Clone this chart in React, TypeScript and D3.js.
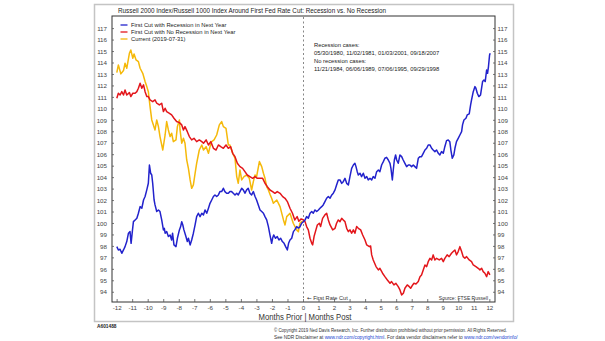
import React from "react";
import * as d3 from "d3";

const chartTitle = "Russell 2000 Index/Russell 1000 Index Around First Fed Rate Cut: Recession vs. No Recession";
const legendLabels = ["First Cut with Recession in Next Year", "First Cut with No Recession in Next Year", "Current (2019-07-31)"];
const seriesColors = ["#2222cc", "#e3161b", "#f5b90a"];
const yTicks = [94, 95, 96, 97, 98, 99, 100, 101, 102, 103, 104, 105, 106, 107, 108, 109, 110, 111, 112, 113, 114, 115, 116, 117];
const xTicks = [-12, -11, -10, -9, -8, -7, -6, -5, -4, -3, -2, -1, 0, 1, 2, 3, 4, 5, 6, 7, 8, 9, 10, 11, 12];
const noteLines = ["Recession cases:", "05/30/1980, 11/02/1981, 01/03/2001, 09/18/2007", "No recession cases:", "11/21/1984, 06/06/1989, 07/06/1995, 09/29/1998"];

const recession: [number, number][] = [
  [-12.02,97.98],[-11.92,97.69],[-11.81,97.75],[-11.7,97.4],[-11.59,97.69],[-11.49,97.98],[-11.38,98.42],[-11.27,99.15],[-11.17,99.29],[-11.1,98.27],[-11.01,99.44],[-10.95,100.16],[-10.84,100.31],[-10.73,100.45],[-10.63,100.89],[-10.52,101.47],[-10.41,101.33],[-10.3,102.05],[-10.2,102.35],[-10.09,102.93],[-9.99,103.51],[-9.92,105.1],[-9.84,104.38],[-9.77,104.23],[-9.71,103.51],[-9.62,102.05],[-9.56,101.62],[-9.45,101.04],[-9.34,101.18],[-9.24,101.04],[-9.13,100.31],[-9.02,99.44],[-8.96,99.58],[-8.91,99.15],[-8.81,99.29],[-8.7,98.86],[-8.59,99.0],[-8.49,98.56],[-8.43,99.15],[-8.34,98.13],[-8.21,97.98],[-8.12,98.71],[-7.99,99.44],[-7.91,99.73],[-7.84,100.16],[-7.77,99.87],[-7.7,99.44],[-7.57,98.86],[-7.48,98.42],[-7.41,98.71],[-7.3,98.13],[-7.2,98.56],[-7.09,99.15],[-6.98,99.87],[-6.88,100.6],[-6.77,100.89],[-6.66,100.6],[-6.55,100.89],[-6.44,100.75],[-6.34,101.18],[-6.23,100.89],[-6.12,101.33],[-6.02,101.76],[-5.91,102.05],[-5.8,102.35],[-5.7,102.49],[-5.59,102.35],[-5.48,102.49],[-5.38,102.78],[-5.27,102.78],[-5.16,103.07],[-5.06,102.78],[-4.95,102.64],[-4.84,102.64],[-4.74,102.78],[-4.63,102.78],[-4.52,102.64],[-4.41,102.49],[-4.3,102.64],[-4.2,102.49],[-4.09,102.78],[-3.98,103.07],[-3.88,102.93],[-3.77,102.64],[-3.66,102.93],[-3.56,103.07],[-3.45,102.64],[-3.34,102.49],[-3.23,102.78],[-3.12,102.35],[-3.02,102.05],[-2.91,101.62],[-2.8,101.18],[-2.69,101.04],[-2.58,100.89],[-2.48,100.6],[-2.37,100.31],[-2.26,99.73],[-2.16,99.0],[-2.05,98.27],[-1.99,98.71],[-1.92,99.0],[-1.8,98.71],[-1.69,98.86],[-1.58,98.56],[-1.47,98.71],[-1.36,98.42],[-1.25,98.27],[-1.15,97.98],[-1.04,97.69],[-0.96,98.27],[-0.87,98.56],[-0.76,98.71],[-0.65,99.29],[-0.56,99.44],[-0.44,99.73],[-0.33,99.6],[-0.23,99.7],[-0.12,100.02],[0,100.16],
  [0.1,100.31],[0.2,100.6],[0.31,100.45],[0.42,100.89],[0.53,101.04],[0.63,100.89],[0.74,101.18],[0.85,101.04],[0.96,101.18],[1.06,101.33],[1.17,101.47],[1.27,101.62],[1.38,101.91],[1.49,102.2],[1.6,102.35],[1.71,102.2],[1.82,102.49],[1.92,102.64],[2.03,102.93],[2.13,103.36],[2.24,103.8],[2.35,103.8],[2.46,103.5],[2.56,103.65],[2.67,103.94],[2.78,103.5],[2.89,103.36],[2.99,104.09],[3.1,104.81],[3.21,105.1],[3.31,105.25],[3.38,104.96],[3.46,104.52],[3.53,104.23],[3.64,104.38],[3.74,104.09],[3.85,104.38],[3.96,103.94],[4.07,104.09],[4.17,103.8],[4.28,103.94],[4.39,103.8],[4.49,104.09],[4.6,103.94],[4.71,104.52],[4.82,104.67],[4.92,104.52],[5.03,105.1],[5.14,105.4],[5.24,105.69],[5.35,105.77],[5.46,105.54],[5.57,105.25],[5.63,104.81],[5.72,103.8],[5.78,104.67],[5.85,105.54],[5.93,105.98],[6.0,105.54],[6.1,105.25],[6.21,105.98],[6.32,105.83],[6.42,105.54],[6.53,105.25],[6.64,104.96],[6.75,105.1],[6.85,105.1],[6.96,104.96],[7.07,105.1],[7.17,104.96],[7.28,104.81],[7.39,105.69],[7.5,105.83],[7.6,105.83],[7.71,106.12],[7.82,106.41],[7.93,106.56],[8.03,106.85],[8.14,106.85],[8.25,106.56],[8.35,106.41],[8.46,106.27],[8.57,106.41],[8.68,106.12],[8.78,105.98],[8.89,106.27],[9.0,106.12],[9.1,106.7],[9.21,107.23],[9.32,107.29],[9.42,107.14],[9.49,106.41],[9.58,105.69],[9.68,105.98],[9.75,106.56],[9.85,107.14],[9.96,107.43],[10.07,107.72],[10.18,108.01],[10.24,108.6],[10.33,109.03],[10.46,109.18],[10.54,109.47],[10.67,109.56],[10.76,110.34],[10.82,110.78],[10.93,111.5],[11.04,111.94],[11.1,111.8],[11.19,111.36],[11.29,111.07],[11.4,111.21],[11.53,112.38],[11.62,112.52],[11.7,112.38],[11.79,113.39],[11.85,113.1],[11.91,113.69],[11.98,114.7],[12.02,114.85]
];

const noRecession: [number, number][] = [
  [-12.02,110.92],[-11.92,111.36],[-11.81,111.21],[-11.7,111.5],[-11.59,111.21],[-11.49,111.65],[-11.38,111.21],[-11.21,111.42],[-11.12,111.07],[-10.99,111.36],[-10.84,111.36],[-10.73,111.5],[-10.63,111.8],[-10.52,112.23],[-10.41,111.8],[-10.3,112.09],[-10.2,111.5],[-10.09,111.07],[-9.99,111.07],[-9.88,110.78],[-9.71,110.63],[-9.56,110.78],[-9.45,110.49],[-9.28,110.34],[-9.13,110.49],[-9.02,109.76],[-8.91,110.05],[-8.81,109.76],[-8.63,109.61],[-8.49,109.47],[-8.34,109.18],[-8.17,108.89],[-7.99,108.8],[-7.84,108.6],[-7.73,108.16],[-7.63,108.45],[-7.48,108.01],[-7.35,107.58],[-7.2,107.29],[-7.05,107.43],[-6.88,107.14],[-6.71,107.29],[-6.55,107.14],[-6.44,107.0],[-6.27,107.29],[-6.12,106.85],[-5.97,107.14],[-5.8,106.56],[-5.63,106.41],[-5.48,106.85],[-5.33,106.7],[-5.16,106.56],[-4.99,106.85],[-4.84,106.56],[-4.69,106.7],[-4.56,106.12],[-4.41,105.83],[-4.26,105.25],[-4.09,104.96],[-3.92,104.81],[-3.77,104.52],[-3.62,104.23],[-3.45,104.09],[-3.27,103.94],[-3.12,104.09],[-2.97,103.94],[-2.8,103.94],[-2.63,103.94],[-2.48,103.51],[-2.33,103.21],[-2.16,102.92],[-1.99,102.78],[-1.84,102.63],[-1.69,102.78],[-1.51,102.63],[-1.34,102.34],[-1.19,102.2],[-1.04,101.91],[-0.87,101.33],[-0.71,100.89],[-0.56,100.31],[-0.41,100.6],[-0.3,100.2],[-0.15,100.4],[0,100.3],
  [0.1,100.16],[0.2,99.73],[0.31,99.44],[0.42,98.71],[0.53,98.27],[0.59,98.13],[0.68,98.86],[0.8,99.44],[0.89,99.87],[1.02,100.02],[1.1,99.73],[1.23,100.45],[1.38,100.75],[1.49,100.89],[1.6,100.31],[1.71,99.87],[1.88,99.44],[2.03,99.58],[2.13,100.02],[2.24,100.31],[2.35,100.16],[2.46,100.45],[2.56,100.31],[2.67,100.16],[2.78,99.58],[2.89,99.29],[2.99,99.44],[3.1,99.15],[3.21,99.44],[3.31,99.15],[3.42,99.73],[3.53,99.58],[3.68,99.44],[3.81,99.0],[3.96,98.56],[4.07,98.13],[4.24,97.98],[4.32,98.04],[4.39,97.26],[4.49,96.82],[4.67,96.24],[4.82,95.95],[4.92,96.09],[5.09,95.66],[5.24,95.36],[5.4,95.07],[5.57,94.78],[5.67,94.93],[5.82,94.64],[5.95,94.78],[6.1,94.49],[6.21,94.2],[6.32,93.77],[6.43,93.91],[6.53,94.35],[6.68,94.64],[6.81,94.49],[6.9,94.35],[7.03,94.64],[7.11,94.78],[7.24,94.72],[7.39,94.93],[7.5,95.36],[7.6,95.51],[7.71,95.95],[7.82,96.38],[7.93,96.24],[8.03,96.67],[8.14,96.96],[8.25,96.82],[8.35,97.26],[8.46,96.82],[8.57,96.96],[8.74,96.82],[8.89,96.96],[9.0,96.67],[9.1,96.96],[9.25,97.26],[9.38,97.11],[9.53,97.4],[9.64,97.55],[9.75,97.69],[9.85,97.26],[9.96,97.55],[10.07,97.98],[10.18,97.55],[10.28,97.11],[10.39,96.96],[10.5,97.11],[10.67,96.82],[10.82,96.67],[10.93,96.38],[11.1,96.24],[11.25,96.09],[11.36,95.95],[11.47,96.09],[11.57,95.8],[11.68,95.66],[11.79,95.36],[11.89,95.8],[12.0,95.51]
];

const current: [number, number][] = [
  [-12.02,113.16],[-11.92,113.83],[-11.76,113.05],[-11.59,113.34],[-11.49,113.98],[-11.38,113.54],[-11.21,114.85],[-11.12,115.14],[-10.99,114.41],[-10.91,114.79],[-10.78,114.27],[-10.63,114.12],[-10.52,113.54],[-10.35,113.1],[-10.2,112.38],[-10.09,111.94],[-9.99,111.5],[-9.88,110.2],[-9.77,109.03],[-9.56,108.16],[-9.45,109.03],[-9.34,108.45],[-9.24,107.58],[-9.06,106.41],[-8.91,107.72],[-8.81,108.89],[-8.7,108.16],[-8.59,107.58],[-8.49,107.87],[-8.38,107.14],[-8.21,107.29],[-8.12,108.45],[-7.99,109.03],[-7.95,108.16],[-7.84,107.0],[-7.73,107.43],[-7.63,107.0],[-7.52,105.54],[-7.41,104.81],[-7.3,103.8],[-7.2,103.07],[-7.09,103.36],[-6.98,104.38],[-6.88,105.25],[-6.71,106.41],[-6.55,106.85],[-6.44,106.41],[-6.27,106.7],[-6.12,106.12],[-6.02,106.7],[-5.91,107.14],[-5.76,107.29],[-5.59,107.72],[-5.42,108.6],[-5.27,108.89],[-5.16,108.45],[-4.99,108.3],[-4.84,106.85],[-4.74,106.85],[-4.56,106.12],[-4.41,105.69],[-4.3,104.09],[-4.2,103.51],[-4.09,104.67],[-3.98,103.8],[-3.83,104.09],[-3.66,104.23],[-3.49,103.94],[-3.34,102.92],[-3.23,103.65],[-3.12,104.23],[-3.02,104.09],[-2.84,105.4],[-2.69,104.96],[-2.58,104.38],[-2.48,103.94],[-2.37,103.21],[-2.26,102.92],[-2.16,102.55],[-2.05,102.2],[-1.94,101.76],[-1.72,102.05],[-1.51,101.47],[-1.29,100.31],[-1.19,99.87],[-1.08,100.6],[-0.87,100.89],[-0.66,100.02],[-0.44,99.44],[-0.33,99.29],[-0.23,100.02],[-0.12,100.16],[-0.06,100.1]
];

const copyright1 = "© Copyright 2019 Ned Davis Research, Inc. Further distribution prohibited without prior permission. All Rights Reserved.";
const FONT = "'Liberation Sans Narrow', 'Arial Narrow', 'Liberation Sans', Arial, sans-serif";

export default function App() {
  const W = 605, H = 341;
  const x = d3.scaleLinear().domain([-12.33, 12.33]).range([112, 495]);
  const y = d3.scaleLinear().domain([93.15, 118.1]).range([302, 16]);
  const line = d3.line<[number, number]>().x(d => x(d[0])).y(d => y(d[1]));
  const series = [recession, noRecession, current];
  const drawOrder = [2, 1, 0];

  return (
    <svg width={W} height={H} style={{ position: "absolute", left: 0, top: 0, background: "#fff" }} fontFamily={FONT}>
      <rect x={0} y={0} width={W} height={H} fill="#fff" />
      <rect x={94.5} y={4.5} width={419} height={317} fill="none" stroke="#c4c4c4" strokeWidth={1.5} />
      <text x={118} y={13} fontSize={7.6} fill="#222" textLength={268} lengthAdjust="spacingAndGlyphs">{chartTitle}</text>
      <rect x={112} y={16} width={383} height={286} fill="none" stroke="#333" strokeWidth={1} />
      {yTicks.map(v => (
        <g key={"y" + v}>
          <line x1={112} x2={114} y1={y(v)} y2={y(v)} stroke="#555" strokeWidth={0.8} />
          <line x1={493} x2={495} y1={y(v)} y2={y(v)} stroke="#555" strokeWidth={0.8} />
          <text x={107} y={y(v) + 2.2} fontSize={6.2} fill="#444" textAnchor="end">{v}</text>
          <text x={497.5} y={y(v) + 2.2} fontSize={6.2} fill="#444">{v}</text>
        </g>
      ))}
      {xTicks.map(v => (
        <g key={"x" + v}>
          <line x1={x(v)} x2={x(v)} y1={299} y2={302} stroke="#555" strokeWidth={0.8} />
          <text x={x(v)} y={309.5} fontSize={6.2} fill="#444" textAnchor="middle">{v}</text>
        </g>
      ))}
      <text x={305} y={319.5} fontSize={9} fill="#333" textAnchor="middle" textLength={93} lengthAdjust="spacingAndGlyphs">Months Prior | Months Post</text>
      <line x1={x(0)} x2={x(0)} y1={17} y2={301} stroke="#888" strokeWidth={1} strokeDasharray="2,2.5" />
      <text x={307} y={299.5} fontSize={5.6} fill="#333">
        <tspan fontFamily="'DejaVu Sans', sans-serif">←</tspan>
        <tspan dx={1.5}>First Rate Cut</tspan>
      </text>
      <text x={488} y={299.5} fontSize={5} fill="#333" textAnchor="end">Source: FTSE Russell</text>
      {noteLines.map((t, i) => (
        <text key={t} x={314} y={[47, 54.5, 63, 70.5][i]} fontSize={5.8} fill="#222">{t}</text>
      ))}
      {drawOrder.map(i => (
        <path key={"s" + i} d={line(series[i]) || ""} fill="none" stroke={seriesColors[i]} strokeWidth={1.5} strokeLinejoin="round" />
      ))}
      {legendLabels.map((t, i) => (
        <g key={t}>
          <line x1={120.5} x2={127.5} y1={25 + i * 7} y2={25 + i * 7} stroke={seriesColors[i]} strokeWidth={1.3} />
          <text x={131} y={27 + i * 7} fontSize={5.8} fill="#222">{t}</text>
        </g>
      ))}
      <text x={97} y={328} fontSize={4.8} fill="#222" fontWeight="bold">A601488</text>
      <text x={507} y={332} fontSize={4.8} fill="#333" textAnchor="end" textLength={233} lengthAdjust="spacingAndGlyphs">{copyright1}</text>
      <text x={274} y={339} fontSize={4.8} fill="#333">
        <tspan>See NDR Disclaimer at </tspan>
        <tspan fill="#1a3fd0">www.ndr.com/copyright.html</tspan>
        <tspan>.  For data vendor disclaimers refer to </tspan>
        <tspan fill="#1a3fd0">www.ndr.com/vendorinfo/</tspan>
      </text>
    </svg>
  );
}
